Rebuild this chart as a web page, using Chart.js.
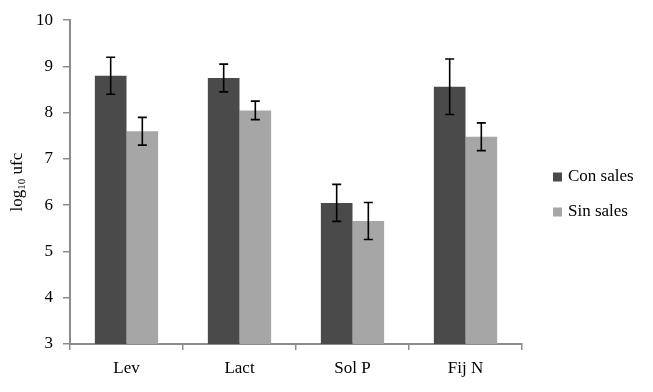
<!DOCTYPE html>
<html>
<head>
<meta charset="utf-8">
<script src="https://cdn.jsdelivr.net/npm/chart.js@4/dist/chart.umd.min.js"></script>
<style>
  html, body { margin: 0; padding: 0; background: #fff; }
  #wrap { width: 653px; height: 392px; }
</style>
</head>
<body>
<div id="wrap"><canvas id="c" width="653" height="392"></canvas></div>
<script>
const categories = ['Lev', 'Lact', 'Sol P', 'Fij N'];
const seriesNames = ['Con sales', 'Sin sales'];
const conSales = [8.8, 8.75, 6.05, 8.56];
const sinSales = [7.6, 8.05, 5.66, 7.48];
const conErr = [0.4, 0.3, 0.4, 0.6];
const sinErr = [0.3, 0.2, 0.4, 0.3];
const yMin = 3, yMax = 10, yStep = 1;
const yTitleMain = 'log';
const yTitleSub = '10';
const yTitleRest = ' ufc';

const FONT = "'Liberation Serif', 'Times New Roman', serif";
const colors = ['#4a4a4a', '#a6a6a6'];
const errors = [conErr, sinErr];

const errorBarPlugin = {
  id: 'errorBars',
  afterDatasetsDraw(chart) {
    const ctx = chart.ctx;
    const y = chart.scales.y;
    ctx.save();
    ctx.strokeStyle = '#000';
    ctx.lineWidth = 1.6;
    chart.data.datasets.forEach((ds, i) => {
      const meta = chart.getDatasetMeta(i);
      meta.data.forEach((el, j) => {
        const v = ds.data[j], e = errors[i][j];
        const yt = y.getPixelForValue(v + e);
        const yb = y.getPixelForValue(v - e);
        const x = el.x;
        ctx.beginPath();
        ctx.moveTo(x, yt); ctx.lineTo(x, yb);
        ctx.moveTo(x - 4.5, yt); ctx.lineTo(x + 4.5, yt);
        ctx.moveTo(x - 4.5, yb); ctx.lineTo(x + 4.5, yb);
        ctx.stroke();
      });
    });
    ctx.restore();
  }
};

const decorPlugin = {
  id: 'decor',
  afterDraw(chart) {
    const ctx = chart.ctx;
    const ca = chart.chartArea;
    ctx.save();
    // legend
    ctx.font = '17px ' + FONT;
    ctx.textBaseline = 'middle';
    ctx.textAlign = 'left';
    const ys = [177, 212];
    chart.data.datasets.forEach((ds, i) => {
      ctx.fillStyle = ds.backgroundColor;
      ctx.fillRect(553, ys[i] - 4.5, 9, 9);
      ctx.fillStyle = '#000';
      ctx.fillText(ds.label, 568, ys[i]);
    });
    // y title with subscript
    const cy = (ca.top + ca.bottom) / 2;
    ctx.translate(17, cy);
    ctx.rotate(-Math.PI / 2);
    ctx.font = '17px ' + FONT;
    const w1 = ctx.measureText(yTitleMain).width;
    const w3 = ctx.measureText(yTitleRest).width;
    ctx.font = '11px ' + FONT;
    const w2 = ctx.measureText(yTitleSub).width;
    let x0 = -(w1 + w2 + w3) / 2;
    ctx.textBaseline = 'alphabetic';
    ctx.fillStyle = '#000';
    ctx.font = '17px ' + FONT;
    ctx.fillText(yTitleMain, x0, 5);
    ctx.font = '11px ' + FONT;
    ctx.fillText(yTitleSub, x0 + w1, 8);
    ctx.font = '17px ' + FONT;
    ctx.fillText(yTitleRest, x0 + w1 + w2, 5);
    ctx.restore();
  }
};

new Chart(document.getElementById('c'), {
  type: 'bar',
  data: {
    labels: categories,
    datasets: [
      { label: seriesNames[0], data: conSales, backgroundColor: colors[0], barPercentage: 1, categoryPercentage: 0.56 },
      { label: seriesNames[1], data: sinSales, backgroundColor: colors[1], barPercentage: 1, categoryPercentage: 0.56 }
    ]
  },
  options: {
    responsive: false,
    animation: false,
    devicePixelRatio: 1,
    layout: { padding: { left: 0, top: 20, right: 131, bottom: 0 } },
    plugins: { legend: { display: false }, tooltip: { enabled: false } },
    scales: {
      x: {
        grid: { offset: true, drawOnChartArea: false, drawTicks: true, tickLength: 6, color: '#8c8c8c', lineWidth: 1.5 },
        border: { color: '#8c8c8c', width: 2 },
        ticks: { font: { family: FONT, size: 17 }, color: '#000', padding: 8 },
        afterFit(s) { s.height = 48; }
      },
      y: {
        min: yMin, max: yMax,
        grid: { drawOnChartArea: false, drawTicks: true, tickLength: 7, color: '#8c8c8c', lineWidth: 1.5 },
        border: { color: '#8c8c8c', width: 2 },
        ticks: { stepSize: yStep, font: { family: FONT, size: 17 }, color: '#000', padding: 10 },
        afterFit(s) { s.width = 70; }
      }
    }
  },
  plugins: [errorBarPlugin, decorPlugin]
});
</script>
</body>
</html>
